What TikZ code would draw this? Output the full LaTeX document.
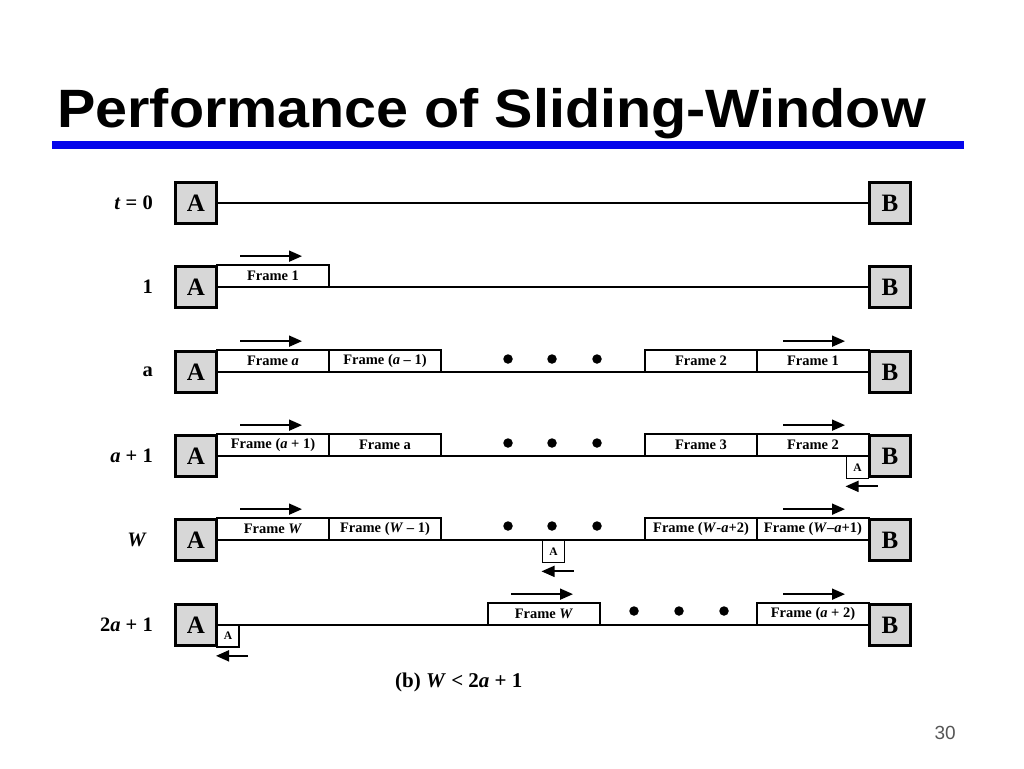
\documentclass[tikz,border=0pt]{standalone}
\usepackage{fontspec}
\setmainfont{Liberation Serif}
\newfontfamily\sansf{Liberation Sans}
\usetikzlibrary{arrows.meta}
\definecolor{boxgray}{RGB}{215,215,215}
\definecolor{titleblue}{RGB}{5,5,235}
\definecolor{numgray}{RGB}{85,85,85}
\tikzset{
  station/.style={draw, line width=2.2pt, fill=boxgray, minimum width=41pt, minimum height=41pt, inner sep=0pt, font=\bfseries\fontsize{25}{25}\selectfont},
  frm/.style={draw, line width=1.7pt, fill=white, minimum width=112pt, minimum height=22pt, inner sep=0pt, font=\bfseries\fontsize{14.5}{15}\selectfont},
  ack/.style={draw, line width=1.7pt, fill=white, minimum width=22pt, minimum height=22pt, inner sep=0pt, font=\bfseries\fontsize{11.5}{12}\selectfont},
  wire/.style={line width=2pt},
  fwd/.style={line width=1.8pt, -{Triangle[length=13pt,width=11pt]}},
  rowlbl/.style={anchor=east, inner sep=0pt, font=\bfseries\fontsize{20.5}{21}\selectfont},
  dotmark/.style={circle, fill=black, inner sep=0pt, minimum size=9.5pt},
}
\begin{document}
\begin{tikzpicture}[x=1pt,y=-1pt]
\useasboundingbox (0,0) rectangle (1024,768);
% title
\node[anchor=base west, inner sep=0pt, font=\sansf\bfseries\fontsize{54}{54}\selectfont] (title) at (57,127) {\scalebox{1.065}[1]{Performance of Sliding-Window}};
\fill[titleblue] (52,141) rectangle (964,149);
\node[anchor=base east, inner sep=0pt, text=numgray, font=\sansf\fontsize{19}{19}\selectfont] (pnum) at (956,739) {30};

% row t=0
\node[rowlbl] (L0) at (153,203) {\textit{t} = 0};
\node[station] (A0) at (196,203) {A};
\node[station] (B0) at (890,203) {B};
\draw[wire] (A0) -- (B0);

% row 1
\node[rowlbl] (L1) at (153,287) {1};
\node[station] (A1) at (196,287) {A};
\node[station] (B1) at (890,287) {B};
\draw[wire] (A1) -- (B1);
\node[frm] (f11) at (273,276) {Frame 1};
\draw[fwd] ([xshift=-33pt,yshift=8pt]f11.north) -- ([xshift=29pt,yshift=8pt]f11.north);

% row a
\node[rowlbl] (L2) at (153,372) {a};
\node[station] (A2) at (196,372) {A};
\node[station] (B2) at (890,372) {B};
\draw[wire] (A2) -- (B2);
\node[frm] (f21) at (273,361) {Frame \textit{a}};
\node[frm] (f22) at (385,361) {Frame (\textit{a} – 1)};
\node[frm] (f23) at (701,361) {Frame 2};
\node[frm] (f24) at (813,361) {Frame 1};
\node[dotmark] (d21) at (508,359) {};
\node[dotmark] (d22) at (552,359) {};
\node[dotmark] (d23) at (597,359) {};
\draw[fwd] ([xshift=-33pt,yshift=8pt]f21.north) -- ([xshift=29pt,yshift=8pt]f21.north);
\draw[fwd] ([xshift=-30pt,yshift=8pt]f24.north) -- ([xshift=32pt,yshift=8pt]f24.north);

% row a+1
\node[rowlbl] (L3) at (153,456) {\textit{a} + 1};
\node[station] (A3) at (196,456) {A};
\node[station] (B3) at (890,456) {B};
\draw[wire] (A3) -- (B3);
\node[frm] (f31) at (273,445) {Frame (\textit{a} + 1)};
\node[frm] (f32) at (385,445) {Frame a};
\node[frm] (f33) at (701,445) {Frame 3};
\node[frm] (f34) at (813,445) {Frame 2};
\node[dotmark] (d31) at (508,443) {};
\node[dotmark] (d32) at (552,443) {};
\node[dotmark] (d33) at (597,443) {};
\draw[fwd] ([xshift=-33pt,yshift=8pt]f31.north) -- ([xshift=29pt,yshift=8pt]f31.north);
\draw[fwd] ([xshift=-30pt,yshift=8pt]f34.north) -- ([xshift=32pt,yshift=8pt]f34.north);
\node[ack] (k3) at (857.5,467.5) {A};
\draw[fwd] ([xshift=20pt,yshift=-7pt]k3.south) -- ([xshift=-12pt,yshift=-7pt]k3.south);

% row W
\node[rowlbl] (L4) at (147,540) {\textit{W}};
\node[station] (A4) at (196,540) {A};
\node[station] (B4) at (890,540) {B};
\draw[wire] (A4) -- (B4);
\node[frm] (f41) at (273,529) {Frame \textit{W}};
\node[frm] (f42) at (385,529) {Frame (\textit{W} – 1)};
\node[frm] (f43) at (701,529) {Frame (\textit{W}-\textit{a}+2)};
\node[frm] (f44) at (813,529) {Frame (\textit{W}–\textit{a}+1)};
\node[dotmark] (d41) at (508,526) {};
\node[dotmark] (d42) at (552,526) {};
\node[dotmark] (d43) at (597,526) {};
\draw[fwd] ([xshift=-33pt,yshift=8pt]f41.north) -- ([xshift=29pt,yshift=8pt]f41.north);
\draw[fwd] ([xshift=-30pt,yshift=8pt]f44.north) -- ([xshift=32pt,yshift=8pt]f44.north);
\node[ack] (k4) at (553.5,551.5) {A};
\draw[fwd] ([xshift=20pt,yshift=-8pt]k4.south) -- ([xshift=-12pt,yshift=-8pt]k4.south);

% row 2a+1
\node[rowlbl] (L5) at (153,625) {2\textit{a} + 1};
\node[station] (A5) at (196,625) {A};
\node[station] (B5) at (890,625) {B};
\draw[wire] (A5) -- (B5);
\node[frm] (f51) at (544,614) {Frame \textit{W}};
\node[frm] (f52) at (813,614) {Frame (\textit{a} + 2)};
\node[dotmark] (d51) at (634,611) {};
\node[dotmark] (d52) at (679,611) {};
\node[dotmark] (d53) at (724,611) {};
\draw[fwd] ([xshift=-33pt,yshift=8pt]f51.north) -- ([xshift=29pt,yshift=8pt]f51.north);
\draw[fwd] ([xshift=-30pt,yshift=8pt]f52.north) -- ([xshift=32pt,yshift=8pt]f52.north);
\node[ack] (k5) at (228,636) {A};
\draw[fwd] ([xshift=20pt,yshift=-8pt]k5.south) -- ([xshift=-12pt,yshift=-8pt]k5.south);

% caption
\node[anchor=base west, inner sep=0pt, font=\bfseries\fontsize{21}{21}\selectfont] (cap) at (395,687) {(b) \textit{W} < 2\textit{a} + 1};
\end{tikzpicture}
\end{document}
